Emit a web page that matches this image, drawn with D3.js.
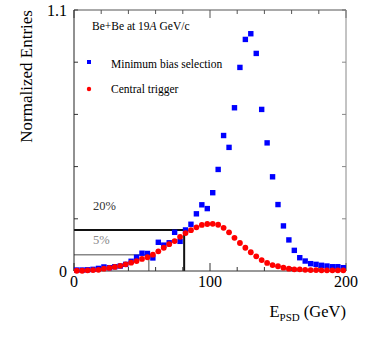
<!DOCTYPE html>
<html>
<head>
<meta charset="utf-8">
<script src="https://cdn.jsdelivr.net/npm/d3@7"></script>
<style>
  body { margin: 0; background: #fff; }
</style>
</head>
<body>
<div id="chart"></div>
<script>
// bin centres (GeV)
const binCenters = [2, 6, 10, 14, 18, 22, 26, 30, 34, 38, 42, 46, 50, 54, 58, 62, 66, 70, 74, 78,
  82, 86, 90, 94, 98, 102, 106, 110, 114, 118, 122, 126, 130, 134, 138, 142, 146, 150, 154, 158,
  162, 166, 170, 174, 178, 182, 186, 190, 194, 198];

const minBias = [0.004, 0.004, 0.005, 0.007, 0.011, 0.017, 0.014, 0.018, 0.021, 0.028,
  0.041, 0.058, 0.075, 0.074, 0.055, 0.121, 0.109, 0.119, 0.163, 0.125,
  0.173, 0.197, 0.241, 0.279, 0.263, 0.330, 0.428, 0.571, 0.521, 0.688,
  0.858, 0.976, 1.000, 0.917, 0.681, 0.540, 0.397, 0.280, 0.190, 0.131,
  0.087, 0.056, 0.042, 0.031, 0.028, 0.024, 0.021, 0.018, 0.018, 0.014];

const central = [0.001, 0.001, 0.003, 0.004, 0.005, 0.010, 0.013, 0.017, 0.022, 0.028,
  0.035, 0.042, 0.051, 0.058, 0.069, 0.083, 0.098, 0.113, 0.126, 0.144,
  0.160, 0.172, 0.184, 0.194, 0.198, 0.199, 0.195, 0.182, 0.163, 0.140,
  0.118, 0.098, 0.079, 0.062, 0.046, 0.034, 0.025, 0.020, 0.014, 0.010,
  0.007, 0.007, 0.005, 0.004, 0.004, 0.003, 0.003, 0.003, 0.003, 0.003];

// centrality cuts: energy edge, entry level, label and where the label sits
const cutNames = ["20%", "5%"];
const cutEnergy = [81, 55];
const cutLevel = [0.173, 0.069];
const cutLabelLevel = [0.257, 0.114];
const cutColor = ["#111", "#888"];

const xTickLabels = [0, 100, 200];
const yTickLabels = [0, 1.1];

const W = 374, H = 339;
const margin = { top: 10, right: 28, bottom: 68, left: 74 };
const width = W - margin.left - margin.right,
  height = H - margin.top - margin.bottom;

const svg = d3.select("#chart").append("svg")
  .attr("width", W)
  .attr("height", H)
  .attr("font-family", "'Liberation Serif', 'Times New Roman', 'DejaVu Serif', serif");

const g = svg.append("g")
  .attr("transform", "translate(" + margin.left + "," + margin.top + ")");

const x = d3.scaleLinear().domain([0, 200]).range([0, width]);
const y = d3.scaleLinear().domain([0, 1.1]).range([height, 0]);

// centrality boxes
cutNames.forEach((name, i) => {
  g.append("path")
    .attr("d", "M0," + y(cutLevel[i]) + "H" + x(cutEnergy[i]) + "V" + height)
    .attr("fill", "none")
    .attr("stroke", cutColor[i])
    .attr("stroke-width", i === 0 ? 2 : 1.5);
  g.append("text")
    .attr("x", x(14))
    .attr("y", y(cutLabelLevel[i]))
    .attr("fill", i === 0 ? "#333" : "#888")
    .style("font-size", "12.5px")
    .text(name);
});

// ticks on all four sides
const xTicks = d3.range(0, 201, 20);
const yTicks = [0, 0.22, 0.44, 0.66, 0.88, 1.1];
const tickLen = v => (v % 100 === 0 ? 8 : 4);

g.append("g").selectAll("line").data(xTicks).join("line")
  .attr("x1", d => x(d)).attr("x2", d => x(d))
  .attr("y1", height).attr("y2", d => height - tickLen(d))
  .attr("stroke", "#333");
g.append("g").selectAll("line").data(xTicks).join("line")
  .attr("x1", d => x(d)).attr("x2", d => x(d))
  .attr("y1", 0).attr("y2", d => tickLen(d))
  .attr("stroke", "#555");
g.append("g").selectAll("line").data(yTicks).join("line")
  .attr("x1", 0).attr("x2", 4)
  .attr("y1", d => y(d)).attr("y2", d => y(d))
  .attr("stroke", "#333");
g.append("g").selectAll("line").data(yTicks).join("line")
  .attr("x1", width).attr("x2", width - 4)
  .attr("y1", d => y(d)).attr("y2", d => y(d))
  .attr("stroke", "#888");

// frame
g.append("line").attr("x1", 0).attr("x2", width).attr("y1", 0).attr("y2", 0).attr("stroke", "#555");
g.append("line").attr("x1", width).attr("x2", width).attr("y1", 0).attr("y2", height).attr("stroke", "#888");
g.append("line").attr("x1", 0).attr("x2", 0).attr("y1", 0).attr("y2", height).attr("stroke", "#222");
g.append("line").attr("x1", 0).attr("x2", width).attr("y1", height).attr("y2", height).attr("stroke", "#333");

// tick labels
g.append("g").selectAll("text").data(xTickLabels).join("text")
  .attr("x", d => x(d))
  .attr("y", height + 16)
  .attr("text-anchor", "middle")
  .style("font-size", "16px")
  .text(d => d);
g.append("g").selectAll("text").data(yTickLabels).join("text")
  .attr("x", -7)
  .attr("y", d => y(d) + 6)
  .attr("text-anchor", "end")
  .style("font-size", "16px")
  .text(d => d);

// data points
const pts = binCenters.map((c, i) => ({ c, mb: minBias[i], ct: central[i] }));
const sq = 5.4;
g.append("g").selectAll("rect").data(pts).join("rect")
  .attr("x", d => x(d.c) - sq / 2)
  .attr("y", d => y(d.mb) - sq / 2)
  .attr("width", sq).attr("height", sq)
  .attr("fill", "#0000ff");
g.append("g").selectAll("circle").data(pts).join("circle")
  .attr("cx", d => x(d.c))
  .attr("cy", d => y(d.ct))
  .attr("r", 2.9)
  .attr("fill", "#ff0000");

// title inside the frame
const t = g.append("text")
  .attr("x", 18).attr("y", 20)
  .style("font-size", "11.5px");
t.append("tspan").text("Be+Be at 19");
t.append("tspan").style("font-style", "italic").text("A");
t.append("tspan").text(" GeV/c");

// legend
g.append("rect").attr("x", 13).attr("y", 50).attr("width", 4).attr("height", 4).attr("fill", "#0000ff");
g.append("text").attr("x", 37).attr("y", 58).style("font-size", "11.5px").text("Minimum bias selection");
g.append("circle").attr("cx", 15).attr("cy", 79).attr("r", 2.2).attr("fill", "#ff0000");
g.append("text").attr("x", 37).attr("y", 83).style("font-size", "11.5px").text("Central trigger");

// axis titles
const xt = svg.append("text")
  .attr("x", margin.left + width)
  .attr("y", 317)
  .attr("text-anchor", "end")
  .style("font-size", "16.5px");
xt.append("tspan").text("E");
xt.append("tspan").attr("dy", 4).style("font-size", "11px").text("PSD");
xt.append("tspan").attr("dy", -4).text(" (GeV)");

svg.append("text")
  .attr("transform", "translate(32,10) rotate(-90)")
  .attr("text-anchor", "end")
  .style("font-size", "17px")
  .text("Normalized Entries");
</script>
</body>
</html>
